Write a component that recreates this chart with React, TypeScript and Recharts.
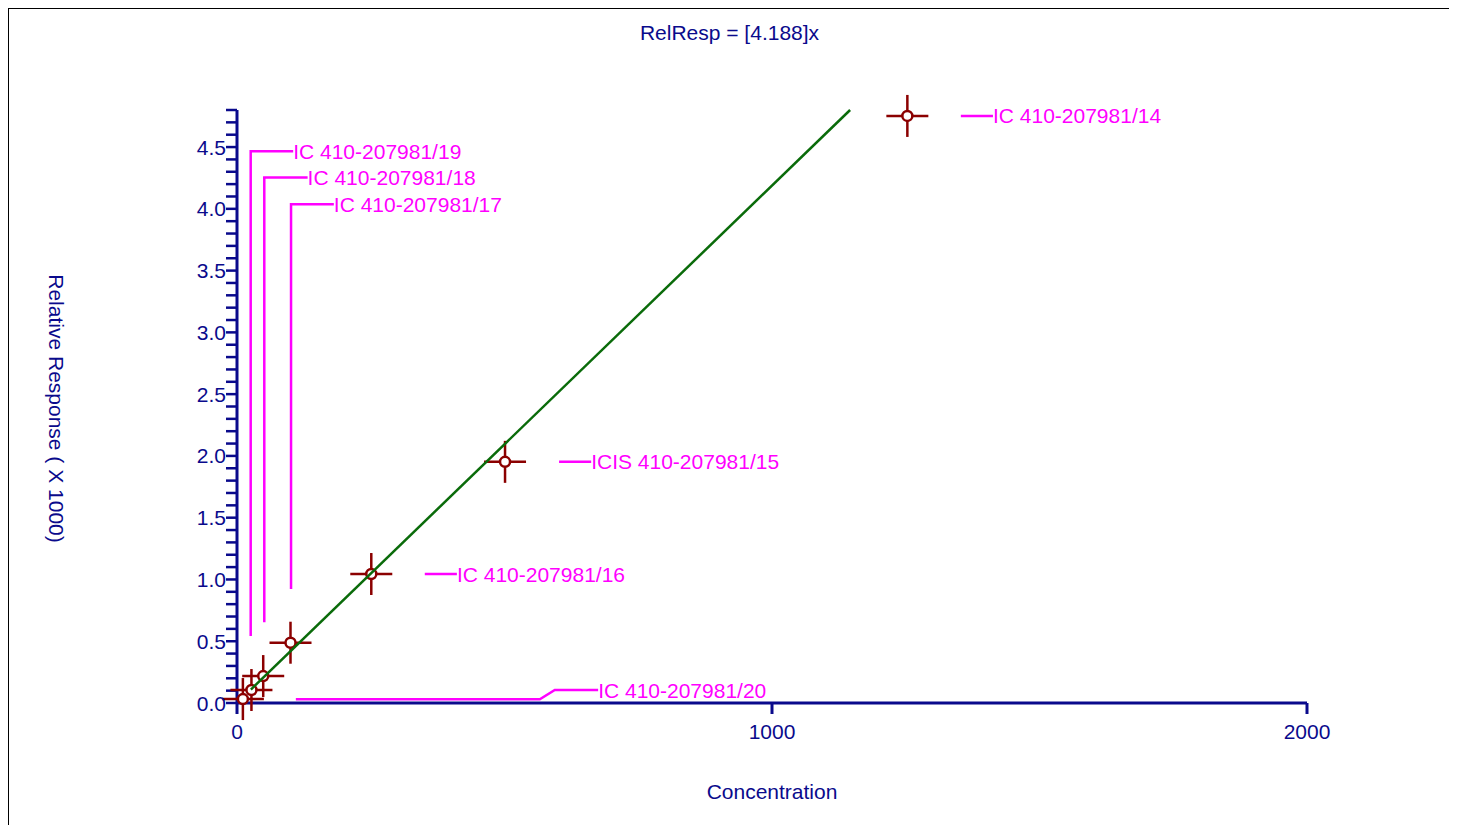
import React from 'react';
import { ScatterChart, Scatter, XAxis, YAxis, Label } from 'recharts';

// Calibration points (concentration, relative response x1000)
const concentrations = [11, 27, 49, 100, 251, 501, 1253];
const responses = [0.032, 0.105, 0.218, 0.488, 1.044, 1.952, 4.752];

// Fitted line RelResp = 4.188x (drawn segment endpoints)
const fitX = [26, 1146];
const fitY = [0.109, 4.8];

// Axis ticks
const xTicks = [0, 1000, 2000];
const yTicks = [0, 0.1, 0.2, 0.3, 0.4, 0.5, 0.6, 0.7, 0.8, 0.9, 1.0, 1.1, 1.2, 1.3, 1.4, 1.5, 1.6, 1.7, 1.8, 1.9, 2.0, 2.1, 2.2, 2.3, 2.4, 2.5, 2.6, 2.7, 2.8, 2.9, 3.0, 3.1, 3.2, 3.3, 3.4, 3.5, 3.6, 3.7, 3.8, 3.9, 4.0, 4.1, 4.2, 4.3, 4.4, 4.5, 4.6, 4.7, 4.8];

// Point labels and their connector paths (data coordinates)
const labelNames = ['IC 410-207981/14', 'ICIS 410-207981/15', 'IC 410-207981/16', 'IC 410-207981/17', 'IC 410-207981/18', 'IC 410-207981/19', 'IC 410-207981/20'];
const labelX = [1413, 662, 411, 181, 132, 105, 675];
const labelY = [4.752, 1.952, 1.044, 4.037, 4.253, 4.466, 0.105];
const connectorX = [
  [1353, 1413],
  [602, 662],
  [351, 411],
  [101, 101, 181],
  [51, 51, 132],
  [25.6, 25.6, 105],
  [110, 566, 594, 675],
];
const connectorY = [
  [4.752, 4.752],
  [1.952, 1.952],
  [1.044, 1.044],
  [0.922, 4.037, 4.037],
  [0.653, 4.253, 4.253],
  [0.542, 4.466, 4.466],
  [0.03, 0.03, 0.105, 0.105],
];

const NAVY = '#0a0a8c';
const MAGENTA = '#ff00ff';
const DARKRED = '#8b0000';
const GREEN = '#0a6b0a';
const FONT = '"Liberation Sans", Arial, sans-serif';
const FS = 21;

const points = concentrations.map((x, i) => ({ x, y: responses[i] }));
const fitData = fitX.map((x, i) => ({ x, y: fitY[i] }));
const labelData = labelNames.map((label, i) => ({ x: labelX[i], y: labelY[i], label }));
const connectors = connectorX.map((xs, i) => xs.map((x, j) => ({ x, y: connectorY[i][j] })));

const CrossShape = (p: any) => {
  const { cx, cy } = p;
  if (cx == null || cy == null) return <g />;
  return (
    <g>
      <line x1={cx - 21} y1={cy} x2={cx + 21} y2={cy} stroke={DARKRED} strokeWidth={2.5} />
      <line x1={cx} y1={cy - 21} x2={cx} y2={cy + 21} stroke={DARKRED} strokeWidth={2.5} />
      <circle cx={cx} cy={cy} r={5} fill="#ffffff" stroke={DARKRED} strokeWidth={2.5} />
    </g>
  );
};

const NoShape = () => <g />;

const LabelShape = (p: any) => {
  const { cx, cy, payload } = p;
  if (cx == null || cy == null) return <g />;
  return (
    <text x={cx} y={cy} dy="0.36em" fill={MAGENTA} fontSize={FS} fontFamily={FONT} textAnchor="start">
      {payload?.label}
    </text>
  );
};

const YTick = (p: any) => {
  const { x, y, payload } = p;
  const v = payload.value;
  const major = Math.abs(v * 2 - Math.round(v * 2)) < 1e-6;
  if (!major) return <g />;
  return (
    <text x={x} y={y} dy="0.36em" textAnchor="end" fill={NAVY} fontSize={FS} fontFamily={FONT}>
      {v.toFixed(1)}
    </text>
  );
};

const XTick = (p: any) => {
  const { x, y, payload } = p;
  return (
    <text x={x} y={y} dy="0.71em" textAnchor="middle" fill={NAVY} fontSize={FS} fontFamily={FONT}>
      {payload.value}
    </text>
  );
};

export default function App() {
  return (
    <div
      style={{
        position: 'relative',
        margin: '-1px -1px -8px -1px',
        width: 1441,
        height: 824,
        borderTop: '2px solid #000',
        borderLeft: '2px solid #000',
        borderRight: '2px solid #000',
        background: '#fff',
        fontFamily: FONT,
      }}
    >
      <div
        style={{
          position: 'absolute',
          left: 0,
          top: 0,
          width: 1441,
          textAlign: 'center',
          lineHeight: '48px',
          fontSize: FS,
          color: NAVY,
          fontFamily: FONT,
        }}
      >
        RelResp = [4.188]x
      </div>
      <ScatterChart width={1441} height={824} margin={{ top: 101, right: 143, bottom: 30, left: 168 }}>
        <XAxis
          type="number"
          dataKey="x"
          domain={[0, 2000]}
          ticks={xTicks}
          interval={0}
          height={100}
          tickSize={11}
          tickMargin={10}
          axisLine={{ stroke: NAVY, strokeWidth: 3 }}
          tickLine={{ stroke: NAVY, strokeWidth: 3 }}
          tick={<XTick />}
        >
          <Label
            content={(lp: any) => {
              const vb = lp.viewBox || {};
              return (
                <text x={vb.x + vb.width / 2} y={vb.y + 88} dy="0.36em" textAnchor="middle" fill={NAVY} fontSize={FS} fontFamily={FONT}>
                  Concentration
                </text>
              );
            }}
          />
        </XAxis>
        <YAxis
          type="number"
          dataKey="y"
          domain={[0, 4.8]}
          ticks={yTicks}
          interval={0}
          width={60}
          tickSize={11}
          tickMargin={0}
          axisLine={{ stroke: NAVY, strokeWidth: 3 }}
          tickLine={{ stroke: NAVY, strokeWidth: 2.5 }}
          tick={<YTick />}
        >
          <Label
            content={(lp: any) => {
              const vb = lp.viewBox || {};
              const cx = vb.x - 120;
              const cy = vb.y + vb.height / 2 + 2;
              return (
                <text x={cx} y={cy} dy="0.36em" textAnchor="middle" fill={NAVY} fontSize={FS} fontFamily={FONT} transform={`rotate(90, ${cx}, ${cy})`}>
                  Relative Response ( X 1000)
                </text>
              );
            }}
          />
        </YAxis>
        {connectors.map((c, i) => (
          <Scatter
            key={`c${i}`}
            data={c}
            line={{ stroke: MAGENTA, strokeWidth: 2.5 }}
            shape={NoShape}
            isAnimationActive={false}
          />
        ))}
        <Scatter data={labelData} shape={LabelShape} isAnimationActive={false} />
        <Scatter data={points} shape={CrossShape} isAnimationActive={false} />
        <Scatter data={fitData} line={{ stroke: GREEN, strokeWidth: 2.5 }} shape={NoShape} isAnimationActive={false} />
      </ScatterChart>
    </div>
  );
}
